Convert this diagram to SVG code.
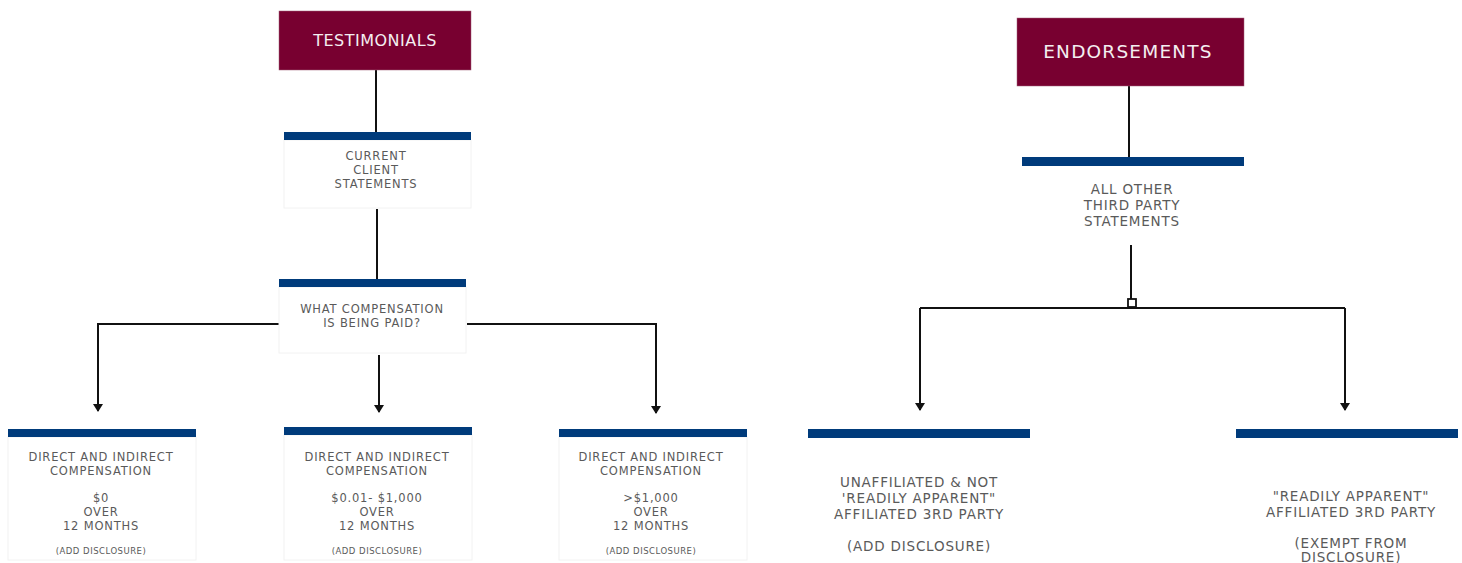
<svg xmlns="http://www.w3.org/2000/svg" width="1462" height="563" viewBox="0 0 1462 563">
<defs>
<marker id="arr" viewBox="0 0 8 10" refX="7" refY="5" markerWidth="8" markerHeight="10" markerUnits="userSpaceOnUse" orient="auto">
<path d="M0,0 L8,5 L0,10 Z" fill="#111"/>
</marker>
<style>
.head{fill:#780030;stroke:#a0607a;stroke-width:0.5}
.headt{fill:#f4eef0;font-family:"DejaVu Sans","Liberation Sans",sans-serif;text-anchor:middle}
.bar{fill:#003b7b}
.card{fill:#fff;stroke:#f2f2f2;stroke-width:1}
.t{fill:#5a5a5a;font-family:"DejaVu Sans","Liberation Sans",sans-serif;text-anchor:middle}
.s{font-size:11.5px;letter-spacing:0.8px}
.m{font-size:13.5px;letter-spacing:0.8px}
.xs{font-size:8.5px;letter-spacing:0.5px}
.ln{fill:none;stroke:#111;stroke-width:2}
</style>
</defs>
<rect width="1462" height="563" fill="#fff"/>

<g id="connectors">
<path class="ln" d="M376,70 V133"/>
<path class="ln" d="M377,209 V279"/>
<path class="ln" d="M279,324 H98 V411" marker-end="url(#arr)"/>
<path class="ln" d="M467,324 H656 V413" marker-end="url(#arr)"/>
<path class="ln" d="M379,355 V412" marker-end="url(#arr)"/>
<path class="ln" d="M1129,86 V157"/>
<path class="ln" d="M1131,245 V299"/>
<path class="ln" d="M920,308 H1345"/>
<path class="ln" d="M920,308 V410" marker-end="url(#arr)"/>
<path class="ln" d="M1345,308 V410" marker-end="url(#arr)"/>
<rect x="1128" y="299" width="8" height="8" fill="#fff" stroke="#111" stroke-width="1.8"/>
</g>

<g id="testimonials">
<rect class="head" x="279" y="11" width="192" height="59"/>
<text class="headt" x="375" y="46" font-size="16" letter-spacing="0.5">TESTIMONIALS</text>
</g>

<g id="current-client">
<rect class="card" x="284" y="140" width="187" height="68"/>
<rect class="bar" x="284" y="132" width="187" height="8"/>
<text class="t s" x="376" y="160">CURRENT</text>
<text class="t s" x="376" y="174">CLIENT</text>
<text class="t s" x="376" y="188">STATEMENTS</text>
</g>

<g id="compensation">
<rect class="card" x="279" y="287" width="187" height="66"/>
<rect class="bar" x="279" y="279" width="187" height="8"/>
<text class="t s" x="372" y="313">WHAT COMPENSATION</text>
<text class="t s" x="372" y="327">IS BEING PAID?</text>
</g>

<g id="comp-zero">
<rect class="card" x="8" y="437" width="188" height="123"/>
<rect class="bar" x="8" y="429" width="188" height="8"/>
<text class="t s" x="101" y="461">DIRECT AND INDIRECT</text>
<text class="t s" x="101" y="475">COMPENSATION</text>
<text class="t s" x="101" y="502">$0</text>
<text class="t s" x="101" y="516">OVER</text>
<text class="t s" x="101" y="530">12 MONTHS</text>
<text class="t xs" x="101" y="554">(ADD DISCLOSURE)</text>
</g>

<g id="comp-mid">
<rect class="card" x="284" y="435" width="188" height="125"/>
<rect class="bar" x="284" y="427" width="188" height="8"/>
<text class="t s" x="377" y="461">DIRECT AND INDIRECT</text>
<text class="t s" x="377" y="475">COMPENSATION</text>
<text class="t s" x="377" y="502">$0.01- $1,000</text>
<text class="t s" x="377" y="516">OVER</text>
<text class="t s" x="377" y="530">12 MONTHS</text>
<text class="t xs" x="377" y="554">(ADD DISCLOSURE)</text>
</g>

<g id="comp-high">
<rect class="card" x="559" y="437" width="188" height="123"/>
<rect class="bar" x="559" y="429" width="188" height="8"/>
<text class="t s" x="651" y="461">DIRECT AND INDIRECT</text>
<text class="t s" x="651" y="475">COMPENSATION</text>
<text class="t s" x="651" y="502">&gt;$1,000</text>
<text class="t s" x="651" y="516">OVER</text>
<text class="t s" x="651" y="530">12 MONTHS</text>
<text class="t xs" x="651" y="554">(ADD DISCLOSURE)</text>
</g>

<g id="endorsements">
<rect class="head" x="1017" y="18" width="227" height="68"/>
<text class="headt" x="1128" y="58" font-size="18.5" letter-spacing="1.2">ENDORSEMENTS</text>
</g>

<g id="third-party">
<rect class="bar" x="1022" y="157" width="222" height="9"/>
<text class="t m" x="1132" y="194">ALL OTHER</text>
<text class="t m" x="1132" y="210">THIRD PARTY</text>
<text class="t m" x="1132" y="226">STATEMENTS</text>
</g>

<g id="unaffiliated">
<rect class="bar" x="808" y="429" width="222" height="9"/>
<text class="t m" x="919" y="487">UNAFFILIATED &amp; NOT</text>
<text class="t m" x="919" y="503">'READILY APPARENT"</text>
<text class="t m" x="919" y="519">AFFILIATED 3RD PARTY</text>
<text class="t m" x="919" y="551">(ADD DISCLOSURE)</text>
</g>

<g id="affiliated">
<rect class="bar" x="1236" y="429" width="222" height="9"/>
<text class="t m" x="1351" y="501">"READILY APPARENT"</text>
<text class="t m" x="1351" y="517">AFFILIATED 3RD PARTY</text>
<text class="t m" x="1351" y="548">(EXEMPT FROM</text>
<text class="t m" x="1351" y="562">DISCLOSURE)</text>
</g>
</svg>
